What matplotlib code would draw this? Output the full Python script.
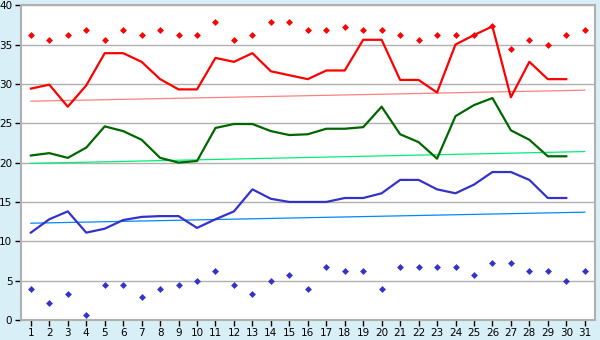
import matplotlib.pyplot as plt

days = list(range(1, 32))

tmax = [29.4, 29.9, 27.1, 29.8, 33.9, 33.9, 32.8, 30.6, 29.3, 29.3,
        33.3, 32.8, 33.9, 31.6, 31.1, 30.6, 31.7, 31.7, 35.6, 35.6,
        30.5, 30.5, 28.9, 35.0, 36.2, 37.3, 28.3, 32.8, 30.6, 30.6]
tavg = [20.9, 21.2, 20.6, 21.9, 24.6, 24.0, 22.9, 20.6, 20.0, 20.2,
        24.4, 24.9, 24.9, 24.0, 23.5, 23.6, 24.3, 24.3, 24.5, 27.1,
        23.6, 22.6, 20.5, 25.9, 27.3, 28.2, 24.1, 22.9, 20.8, 20.8]
tmin = [11.1, 12.8, 13.8, 11.1, 11.6, 12.7, 13.1, 13.2, 13.2, 11.7,
        12.8, 13.8, 16.6, 15.4, 15.0, 15.0, 15.0, 15.5, 15.5, 16.1,
        17.8, 17.8, 16.6, 16.1, 17.2, 18.8, 18.8, 17.8, 15.5, 15.5]

rec_max = [36.2, 35.6, 36.2, 36.8, 35.6, 36.8, 36.2, 36.8, 36.2, 36.2,
           37.8, 35.6, 36.2, 37.8, 37.8, 36.8, 36.8, 37.2, 36.8, 36.8,
           36.2, 35.6, 36.2, 36.2, 36.2, 37.3, 34.4, 35.6, 35.0, 36.2, 36.8]
rec_min = [3.9, 2.2, 3.3, 0.6, 4.4, 4.4, 2.9, 3.9, 4.4, 5.0,
           6.2, 4.4, 3.3, 5.0, 5.7, 3.9, 6.7, 6.2, 6.2, 3.9,
           6.7, 6.7, 6.7, 6.7, 5.7, 7.2, 7.2, 6.2, 6.2, 5.0, 6.2]

# normal values, first and last day
norm_max = [27.8, 29.2]
norm_avg = [19.9, 21.4]
norm_min = [12.3, 13.7]

bg = '#d8eff7'
grey = '#b0b0b0'

fig = plt.figure(figsize=(6, 3.4), dpi=100, facecolor=bg)
ax = fig.add_axes([0.0345, 0.0588, 0.957, 0.926])
ax.set_facecolor('white')

ax.plot([1, 31], norm_max, color='#ff8080', lw=0.9)
ax.plot([1, 31], norm_avg, color='#00ee77', lw=0.9)
ax.plot([1, 31], norm_min, color='#0088ff', lw=0.9)

ax.plot(days[:30], tmax, color='#ff0000', lw=1.6)
ax.plot(days[:30], tavg, color='#006600', lw=1.6)
ax.plot(days[:30], tmin, color='#3333cc', lw=1.6)

ax.plot(days, rec_max, 'D', color='#ff0000', ms=3.5, mew=0)
ax.plot(days, rec_min, 'D', color='#3333cc', ms=3.5, mew=0)

ax.set_xlim(0.45, 31.55)
ax.set_ylim(0, 40)
ax.set_xticks(days)
ax.set_yticks(range(0, 41, 5))
ax.grid(True, axis='y', color=grey, lw=1)
ax.set_axisbelow(True)
for s in ax.spines.values():
    s.set_color(grey)
    s.set_linewidth(1.5)
ax.tick_params(colors='black', labelsize=7.5, length=4, width=1, pad=2)

fig.savefig('out.png', dpi=100, facecolor=bg)
